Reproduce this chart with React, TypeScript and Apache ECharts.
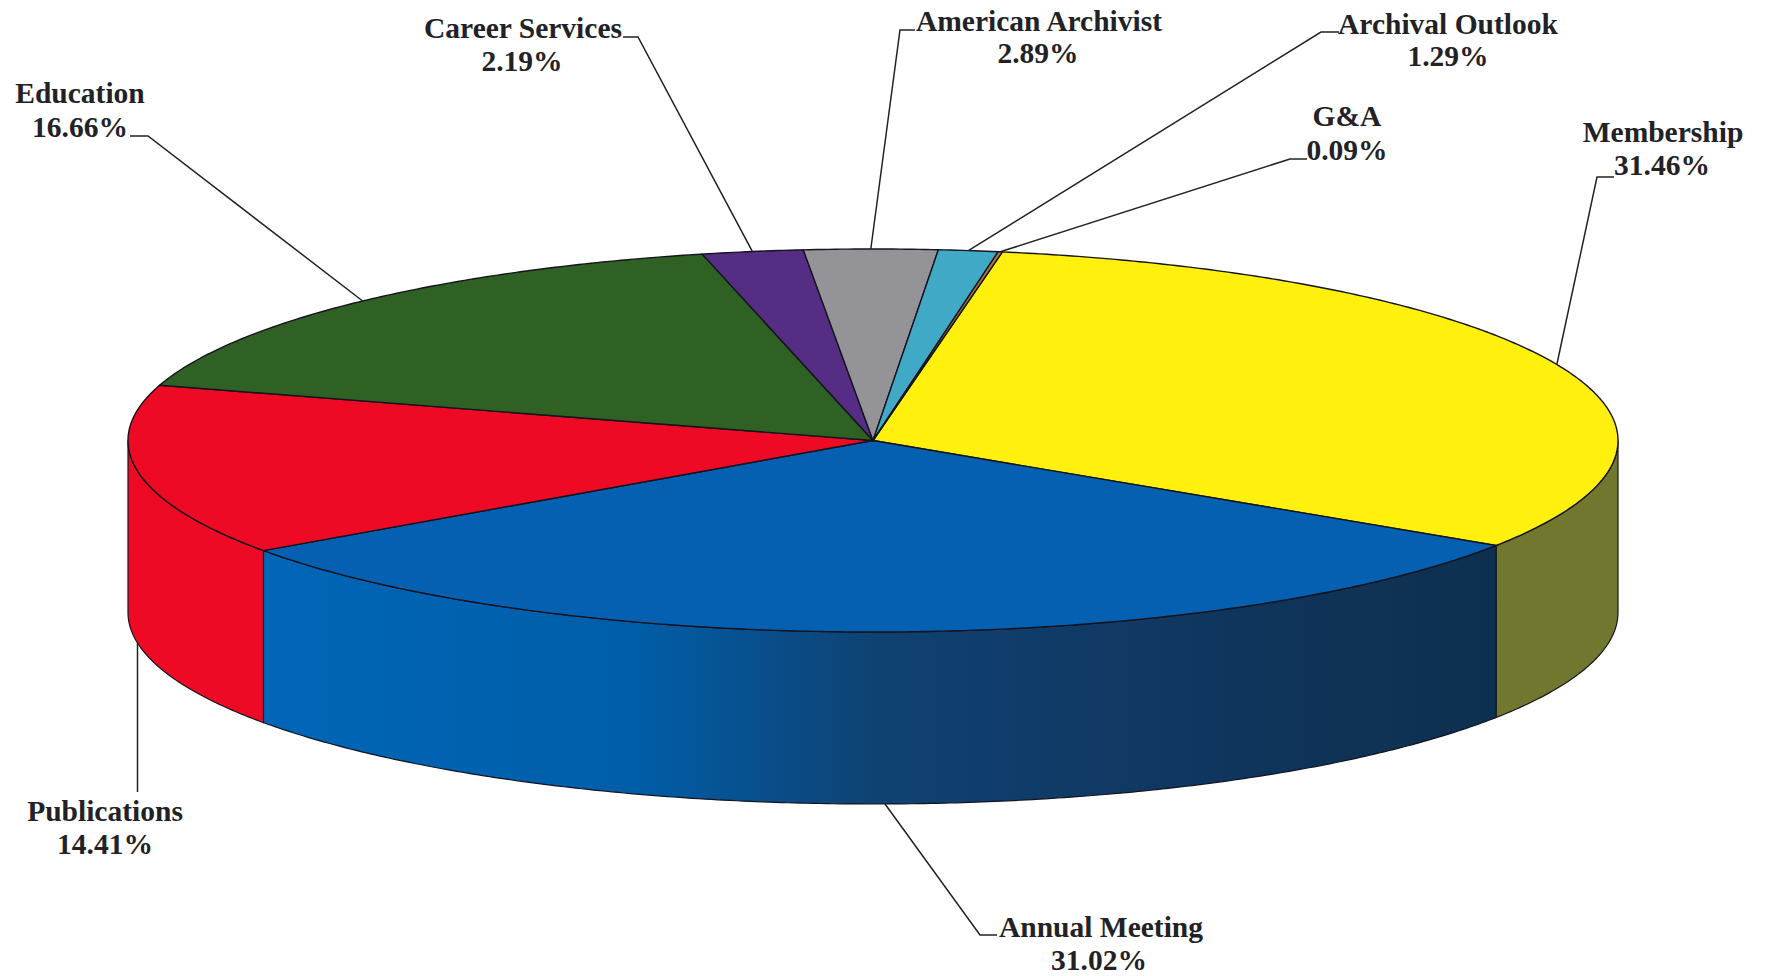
import React, { useEffect, useRef } from "react";
import * as echarts from "echarts";

const categories = ["Membership", "Annual Meeting", "Publications", "Education", "Career Services", "American Archivist", "Archival Outlook", "G&A"];
const shares = [31.46, 31.02, 14.41, 16.66, 2.19, 2.89, 1.29, 0.09];
const topColors = ["#fff10d", "#0560b2", "#ee0a24", "#2f6125", "#562d84", "#949498", "#3fa9c6", "#b07a40"];
const sideColors = ["#71772e", "#0560b2", "#ee0a24", "#2f6125", "#562d84", "#949498", "#3fa9c6", "#b07a40"];

// Layout of the drawing, in page pixels
const CX = 873, CY = 440.5, RX = 745, RY = 191.5, DEPTH = 172, START_DEG = -80.0;
const labelPlace = [
  { name: [1663, 132], pct: [1662, 165], elbow: [[1614, 177], [1597, 177]] },
  { name: [1101, 927], pct: [1099, 960], elbow: [[997, 935], [980, 935]] },
  { name: [105, 811], pct: [105, 844], elbow: [[137.5, 792]] },
  { name: [80, 93], pct: [80, 127], elbow: [[130, 136], [148, 136]] },
  { name: [523, 28], pct: [522, 61], elbow: [[623, 37], [638, 37]] },
  { name: [1039, 21], pct: [1038, 53], elbow: [[915, 30], [900, 30]] },
  { name: [1448, 24], pct: [1448, 56], elbow: [[1339, 32], [1321, 32]] },
  { name: [1347, 116], pct: [1347, 150], elbow: [[1307, 159], [1290, 159]] },
];
const FONT = "bold 29.5px 'Liberation Serif'";

const total = shares.reduce((a, b) => a + b, 0);
function sliceAngles(i: number): [number, number] {
  let before = 0;
  for (let k = 0; k < i; k++) before += shares[k];
  const a = START_DEG + (before / total) * 360;
  return [a, a + (shares[i] / total) * 360];
}
function rim(deg: number, dy = 0): number[] {
  const t = (deg * Math.PI) / 180;
  return [CX + RX * Math.cos(t), CY + RY * Math.sin(t) + dy];
}
function arcPoints(a: number, b: number, dy = 0): number[][] {
  const n = Math.max(2, Math.ceil((b - a) * 2));
  const pts: number[][] = [];
  for (let k = 0; k <= n; k++) pts.push(rim(a + ((b - a) * k) / n, dy));
  return pts;
}

const blueSide = () =>
  new echarts.graphic.LinearGradient(261, 0, 1495, 0, [
    { offset: 0, color: "#0066b8" },
    { offset: 0.3, color: "#005ea8" },
    { offset: 0.42, color: "#0a4c88" },
    { offset: 0.5, color: "#0f4272" },
    { offset: 0.66, color: "#103a66" },
    { offset: 0.85, color: "#0f3358" },
    { offset: 1, color: "#0e3050" },
  ], true);

const topSeries = {
  type: "custom",
  coordinateSystem: "none",
  silent: true,
  z: 3,
  data: shares.map((v) => [v]),
  renderItem: (params: any) => {
    const [a, b] = sliceAngles(params.dataIndex);
    return {
      type: "polygon",
      shape: { points: [[CX, CY], ...arcPoints(a, b)] },
      style: { fill: topColors[params.dataIndex], stroke: "#14141e", lineWidth: 1.4 },
    };
  },
};

const sideSeries = {
  type: "custom",
  coordinateSystem: "none",
  silent: true,
  z: 2,
  data: shares.map((v) => [v]),
  renderItem: (params: any) => {
    const i = params.dataIndex;
    const [a0, b0] = sliceAngles(i);
    const a = Math.max(a0, 0);
    const b = Math.min(b0, 180);
    if (b <= a) return null;
    return {
      type: "polygon",
      shape: { points: [...arcPoints(a, b), ...arcPoints(a, b, DEPTH).reverse()] },
      style: { fill: categories[i] === "Annual Meeting" ? blueSide() : sideColors[i], stroke: "#14141e", lineWidth: 1.2 },
    };
  },
};

const labelSeries = {
  type: "custom",
  coordinateSystem: "none",
  silent: true,
  z: 4,
  data: shares.map((v) => [v]),
  renderItem: (params: any, api: any) => {
    const i = params.dataIndex;
    const [a, b] = sliceAngles(i);
    const mid = (a + b) / 2;
    const front = Math.sin((mid * Math.PI) / 180) > 0;
    const place = labelPlace[i];
    const text = (s: string, p: number[]) => ({
      type: "text",
      x: p[0],
      y: p[1],
      style: { text: s, font: FONT, fill: "#222226", align: "center", verticalAlign: "middle" },
    });
    return {
      type: "group",
      children: [
        {
          type: "polyline",
          shape: { points: [...place.elbow, rim(mid, front ? DEPTH : 0)] },
          style: { fill: "none", stroke: "#222222", lineWidth: 1.5 },
        },
        text(categories[i], place.name),
        text(api.value(0).toFixed(2) + "%", place.pct),
      ],
    };
  },
};

export default function App() {
  const ref = useRef<HTMLDivElement>(null);
  useEffect(() => {
    const chart = echarts.init(ref.current!, null, { renderer: "svg" });
    chart.setOption({
      animation: false,
      backgroundColor: "#ffffff",
      series: [sideSeries, topSeries, labelSeries],
    });
    return () => chart.dispose();
  }, []);
  return <div ref={ref} style={{ position: "fixed", left: 0, top: 0, width: 1767, height: 976 }} />;
}
